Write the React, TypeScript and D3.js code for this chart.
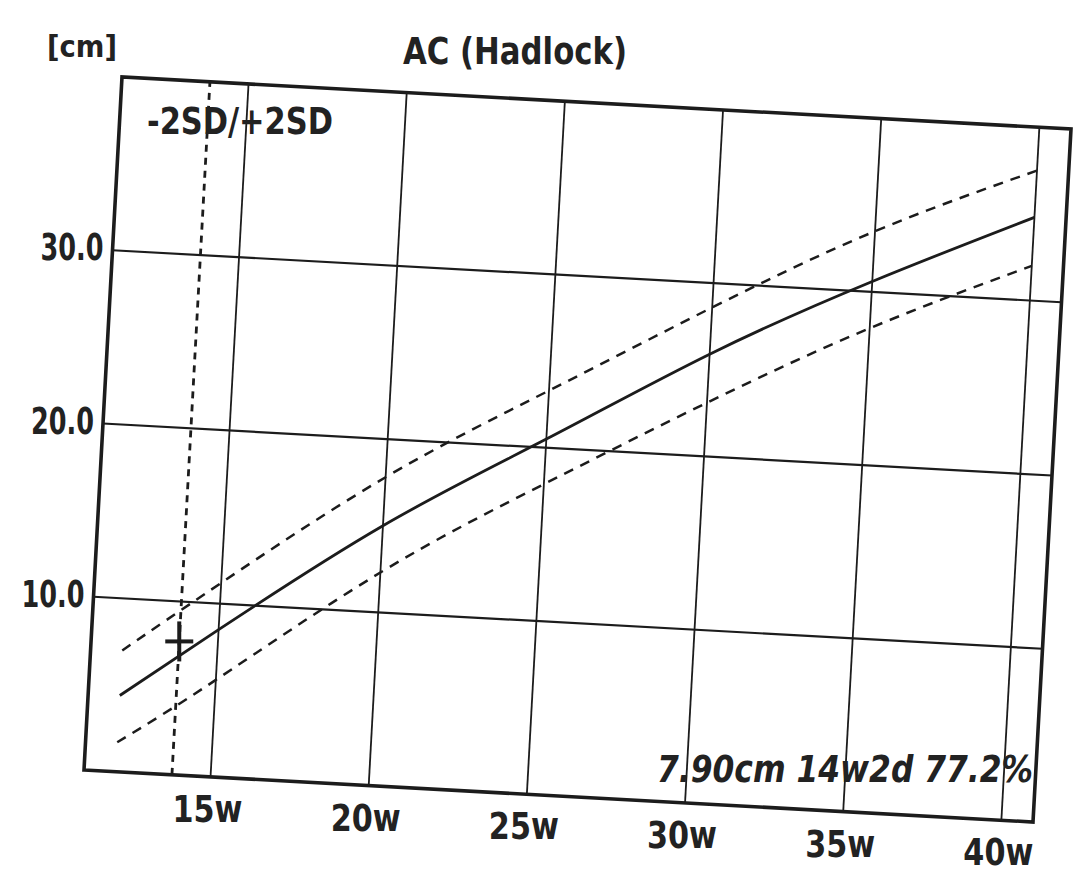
import React from "react";
import * as d3 from "d3";

// ---- data ----
const TITLE = "AC (Hadlock)";
const Y_UNIT = "[cm]";
const LEGEND = "-2SD/+2SD";
const RESULT = "7.90cm 14w2d 77.2%";

const X_TICKS = [15, 20, 25, 30, 35, 40];
const X_TICK_LABELS = ["15w", "20w", "25w", "30w", "35w", "40w"];
const Y_TICKS = [10, 20, 30];
const Y_TICK_LABELS = ["10.0", "20.0", "30.0"];

const WEEKS = [12, 15, 20, 25, 30, 35, 40];
const MEAN = [4.4, 8.5, 15.0, 20.5, 25.9, 30.6, 34.8];
const UPPER = [7.0, 11.2, 17.8, 23.3, 28.6, 33.5, 37.5];
const LOWER = [1.7, 5.6, 12.3, 17.9, 23.1, 27.9, 32.0];

const MARK_WEEK = 13.78;
const MARK_CM = 7.7;

// ---- geometry (photographed page is slightly rotated) ----
const W = 1075;
const H = 888;
const ORIGIN: [number, number] = [84, 770];
const U: [number, number] = [949, 52];
const V: [number, number] = [38, -693];

const xScale = d3.scaleLinear().domain([11, 41]).range([0, 1]);
const yScale = d3.scaleLinear().domain([0, 40]).range([0, 1]);

function proj(w: number, c: number): [number, number] {
  const a = xScale(w);
  const b = yScale(c);
  return [ORIGIN[0] + a * U[0] + b * V[0], ORIGIN[1] + a * U[1] + b * V[1]];
}

const INK = "#1c1c1c";
const FONT = "'DejaVu Sans', Verdana, sans-serif";

export default function App() {
  const [x0, x1] = xScale.domain();
  const [y0, y1] = yScale.domain();

  const line = d3
    .line<[number, number]>()
    .x((d) => proj(d[0], d[1])[0])
    .y((d) => proj(d[0], d[1])[1])
    .curve(d3.curveNatural);

  const series = (vals: number[]) => WEEKS.map((w, i) => [w, vals[i]] as [number, number]);

  const frame = [proj(x0, y0), proj(x1, y0), proj(x1, y1), proj(x0, y1)];
  const framePath = "M" + frame.map((p) => p.join(",")).join("L") + "Z";

  const mk = proj(MARK_WEEK, MARK_CM);
  const dTop = proj(MARK_WEEK, y1);
  const dBot = proj(MARK_WEEK, y0);

  return (
    <svg
      width={W}
      height={H}
      viewBox={`0 0 ${W} ${H}`}
      style={{ position: "absolute", left: 0, top: 0, background: "#fff" }}
    >
      <rect x={0} y={0} width={W} height={H} fill="#fff" />

      {/* horizontal grid */}
      {Y_TICKS.map((t) => {
        const a = proj(x0, t);
        const b = proj(x1, t);
        return <line key={"h" + t} x1={a[0]} y1={a[1]} x2={b[0]} y2={b[1]} stroke={INK} strokeWidth={2.2} />;
      })}
      {/* vertical grid */}
      {X_TICKS.map((t) => {
        const a = proj(t, y0);
        const b = proj(t, y1);
        return <line key={"v" + t} x1={a[0]} y1={a[1]} x2={b[0]} y2={b[1]} stroke={INK} strokeWidth={1.8} />;
      })}

      {/* measurement vertical dotted line */}
      <line
        x1={dBot[0]}
        y1={dBot[1]}
        x2={dTop[0]}
        y2={dTop[1]}
        stroke={INK}
        strokeWidth={2.8}
        strokeDasharray="7,6"
      />

      {/* curves */}
      <path d={line(series(UPPER)) || ""} fill="none" stroke={INK} strokeWidth={2.5} strokeDasharray="10,8" />
      <path d={line(series(LOWER)) || ""} fill="none" stroke={INK} strokeWidth={2.5} strokeDasharray="10,8" />
      <path d={line(series(MEAN)) || ""} fill="none" stroke={INK} strokeWidth={2.8} />

      {/* marker */}
      <line x1={mk[0] - 14} y1={mk[1]} x2={mk[0] + 14} y2={mk[1]} stroke={INK} strokeWidth={4} />
      <line x1={mk[0]} y1={mk[1] - 20} x2={mk[0]} y2={mk[1] + 20} stroke={INK} strokeWidth={4} />

      {/* frame */}
      <path d={framePath} fill="none" stroke={INK} strokeWidth={3.6} strokeLinejoin="miter" />

      {/* texts */}
      <g fill="#222" fontFamily={FONT} fontWeight="bold">
        <text x={47} y={57} fontSize={30} textLength={70} lengthAdjust="spacingAndGlyphs">
          {Y_UNIT}
        </text>
        <text x={403} y={64} fontSize={38} textLength={224} lengthAdjust="spacingAndGlyphs">
          {TITLE}
        </text>
        <text x={147} y={134} fontSize={38} textLength={186} lengthAdjust="spacingAndGlyphs">
          {LEGEND}
        </text>
        {Y_TICKS.map((t, i) => {
          const p = proj(x0, t);
          const wdt = 63;
          return (
            <text
              key={"yl" + t}
              x={p[0] - 9 - wdt}
              y={p[1] + 10}
              fontSize={38}
              textLength={wdt}
              lengthAdjust="spacingAndGlyphs"
            >
              {Y_TICK_LABELS[i]}
            </text>
          );
        })}
        {X_TICKS.map((t, i) => {
          const p = proj(t, y0);
          const wdt = 70;
          return (
            <text
              key={"xl" + t}
              x={p[0] - 3 - wdt / 2}
              y={p[1] + 45}
              fontSize={38}
              textLength={wdt}
              lengthAdjust="spacingAndGlyphs"
            >
              {X_TICK_LABELS[i]}
            </text>
          );
        })}
        <text
          x={657}
          y={782}
          fontSize={38}
          fontStyle="italic"
          textLength={376}
          lengthAdjust="spacingAndGlyphs"
        >
          {RESULT}
        </text>
      </g>
    </svg>
  );
}
